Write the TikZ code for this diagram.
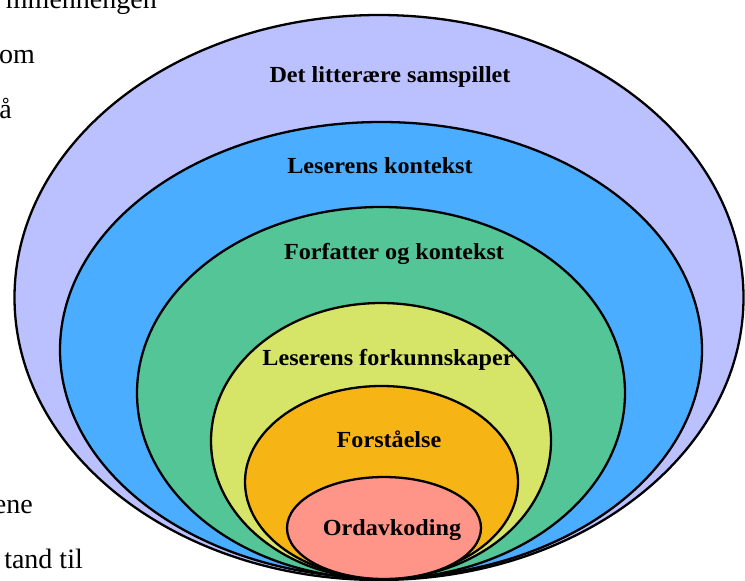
\documentclass[tikz,border=0pt]{standalone}
\usepackage{fontspec}
\setmainfont{Liberation Serif}
\newfontfamily\lblfont[FakeStretch=1.05]{Liberation Serif}
\definecolor{cOuter}{HTML}{BBC0FF}
\definecolor{cBlue}{HTML}{4AADFF}
\definecolor{cGreen}{HTML}{53C597}
\definecolor{cYellow}{HTML}{D6E568}
\definecolor{cOrange}{HTML}{F7B515}
\definecolor{cPink}{HTML}{FF9488}
\begin{document}
\begin{tikzpicture}[x=1pt,y=-1pt,
  ring/.style={draw=black, line width=2.3pt},
  lbl/.style={font=\lblfont\fontsize{23}{27}\selectfont\bfseries, inner sep=0pt, anchor=base},
  side/.style={font=\fontsize{28}{31}\selectfont, inner sep=0pt, anchor=base east}]
\useasboundingbox (0,0) rectangle (745,581);
\begin{scope}
\clip (0,0) rectangle (745,581);
\node[side] (t1) at (157,8) {mmenhengen};
\node[side] (t2) at (35,63) {om};
\node[side] (t3) at (12,118) {å};
\node[side] (t4) at (33,513) {ene};
\node[side] (t5) at (83,568) {tand til};
\path[ring, fill=cOuter]  (379,297.5) ellipse [x radius=364.5pt, y radius=282.5pt];
\path[ring, fill=cBlue]   (381,350) ellipse [x radius=321pt, y radius=228pt];
\path[ring, fill=cGreen]  (381,393) ellipse [x radius=244pt, y radius=186pt];
\path[ring, fill=cYellow] (381,441) ellipse [x radius=170pt, y radius=138pt];
\path[ring, fill=cOrange] (381.5,482) ellipse [x radius=136.5pt, y radius=96pt];
\path[ring, fill=cPink]   (384,528) ellipse [x radius=97pt, y radius=51pt];
\end{scope}
\node[lbl] (l1) at (390,82) {Det litterære samspillet};
\node[lbl] (l2) at (380,173) {Leserens kontekst};
\node[lbl] (l3) at (394,259) {Forfatter og kontekst};
\node[lbl] (l4) at (388,365) {Leserens forkunnskaper};
\node[lbl] (l5) at (389,447) {Forståelse};
\node[lbl] (l6) at (392,535) {Ordavkoding};
\end{tikzpicture}
\end{document}
